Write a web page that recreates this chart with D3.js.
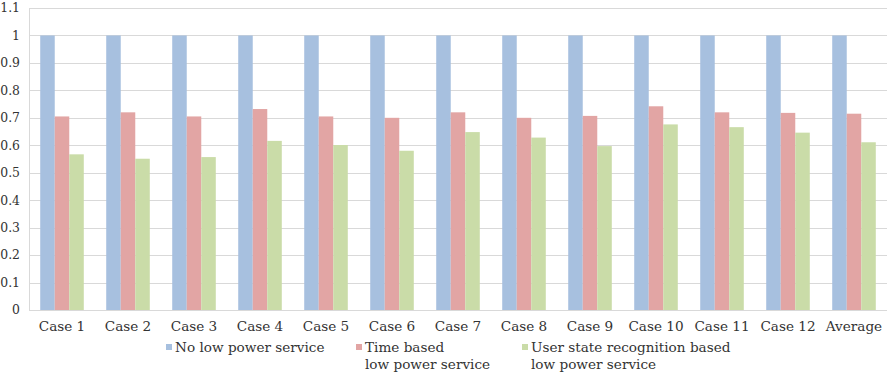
<!DOCTYPE html>
<html lang="en">
<head>
<meta charset="UTF-8">
<title>Low power service comparison</title>
<style>
    body { margin: 0; background: #fff; }
    text { font-family: "DejaVu Serif", "Liberation Serif", serif; font-size: 13.6px; fill: #333; }
    .ylab text { font-size: 12.4px; }
    .grid line { stroke: #d9d9d9; stroke-width: 1px; }
</style>
</head>
<body>
<svg width="894" height="376"></svg>
<script src="https://cdn.jsdelivr.net/npm/d3@7"></script>
<script>
    var categories = ["Case 1", "Case 2", "Case 3", "Case 4", "Case 5", "Case 6", "Case 7",
        "Case 8", "Case 9", "Case 10", "Case 11", "Case 12", "Average"];
    var noLowPower = [1, 1, 1, 1, 1, 1, 1, 1, 1, 1, 1, 1, 1];
    var timeBased = [0.705, 0.72, 0.705, 0.732, 0.705, 0.70, 0.72, 0.70, 0.707, 0.742, 0.72, 0.718, 0.715];
    var userState = [0.567, 0.551, 0.557, 0.616, 0.601, 0.580, 0.648, 0.628, 0.597, 0.676, 0.666, 0.646, 0.611];
    var yTicks = [0, 0.1, 0.2, 0.3, 0.4, 0.5, 0.6, 0.7, 0.8, 0.9, 1, 1.1];

    var seriesNames = ["No low power service", "Time based\nlow power service", "User state recognition based\nlow power service"];
    var colors = ["#a7c0df", "#e2a5a4", "#cadca8"];
    var seriesData = [noLowPower, timeBased, userState];

    var svg = d3.select("svg");
    var plotLeft = 29, plotRight = 887, plotTop = 8, plotBottom = 310;

    var x = d3.scaleBand().domain(categories).range([plotLeft, plotRight]).paddingInner(0.34).paddingOuter(0.17);
    var xs = d3.scaleBand().domain(d3.range(3)).range([0, x.bandwidth()]);
    var y = d3.scaleLinear().domain([0, 1.1]).range([plotBottom, plotTop]);

    // gridlines
    svg.append("g").attr("class", "grid")
        .selectAll("line").data(yTicks).join("line")
        .attr("x1", plotLeft).attr("x2", plotRight)
        .attr("y1", d => Math.round(y(d)) + 0.5).attr("y2", d => Math.round(y(d)) + 0.5);
    svg.append("line")
        .attr("x1", plotLeft + 0.5).attr("x2", plotLeft + 0.5)
        .attr("y1", y(1.1)).attr("y2", y(0))
        .style("stroke", "#d9d9d9");

    // y labels
    svg.append("g").attr("class", "ylab").selectAll("text").data(yTicks).join("text")
        .attr("x", 20).attr("y", d => y(d)).attr("dy", "0.35em")
        .attr("text-anchor", "end")
        .text(d => d3.format("~g")(+d.toFixed(1)));

    // bars
    seriesData.forEach(function (vals, s) {
        svg.append("g").selectAll("rect").data(vals).join("rect")
            .attr("x", (d, i) => x(categories[i]) + xs(s))
            .attr("width", xs.bandwidth())
            .attr("y", d => y(d))
            .attr("height", d => y(0) - y(d))
            .attr("fill", colors[s]);
    });

    // x labels
    svg.append("g").selectAll("text").data(categories).join("text")
        .attr("x", d => x(d) + x.bandwidth() / 2)
        .attr("y", 331)
        .attr("text-anchor", "middle")
        .text(d => d);

    // legend
    var legendX = [166, 356, 522];
    seriesNames.forEach(function (name, s) {
        var g = svg.append("g").attr("transform", `translate(${legendX[s]}, 352)`);
        g.append("rect").attr("x", 0).attr("y", -8).attr("width", 6).attr("height", 6).attr("fill", colors[s]);
        name.split("\n").forEach(function (line, k) {
            g.append("text").attr("x", 9).attr("y", k * 17).text(line);
        });
    });
</script>
</body>
</html>
